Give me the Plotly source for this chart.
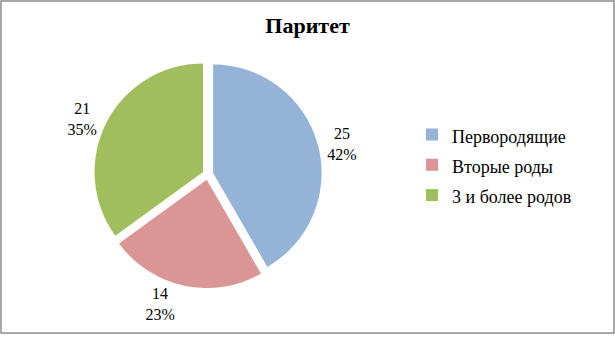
import plotly.graph_objects as go

labels = ["Первородящие", "Вторые роды", "3 и более родов"]
values = [25, 14, 21]
colors = ["#95B3D7", "#D99694", "#A0BE5E"]

SERIF = "Times New Roman, Liberation Serif, DejaVu Serif, serif"
W, H = 615, 339
legend_labels = ["<span style='font-size:18px'>%s</span>" % s for s in labels]

fig = go.Figure()
fig.add_trace(go.Pie(
    labels=legend_labels, values=values, sort=False, direction="clockwise", rotation=0,
    marker=dict(colors=colors, line=dict(color="white", width=0)),
    pull=[0.05, 0.05, 0.05],
    texttemplate="%{value}<br>%{percent:.0%}",
    textposition="outside",
    textfont=dict(family=SERIF, size=16, color="black"),
    domain=dict(x=[0.150, 0.526], y=[0.137, 0.819]),
    showlegend=True,
))
fig.update_layout(
    width=W, height=H,
    margin=dict(l=0, r=0, t=0, b=0),
    paper_bgcolor="white",
    font=dict(family=SERIF),
    title=dict(text="<b>Паритет</b>", x=0.5, xanchor="center", y=1 - 25 / H, yanchor="middle",
               font=dict(family=SERIF, size=22, color="black")),
    legend=dict(x=412 / W, xanchor="left", y=1 - 116 / H, yanchor="top",
                font=dict(family=SERIF, size=21, color="black"),
                itemwidth=30, tracegroupgap=0),
    shapes=[dict(type="rect", xref="paper", yref="paper", x0=1 / W, x1=1 - 1 / W, y0=1 / H, y1=1 - 1 / H,
                 line=dict(color="#8c8c8c", width=1.5))],
)
fig.write_html("out.html")
